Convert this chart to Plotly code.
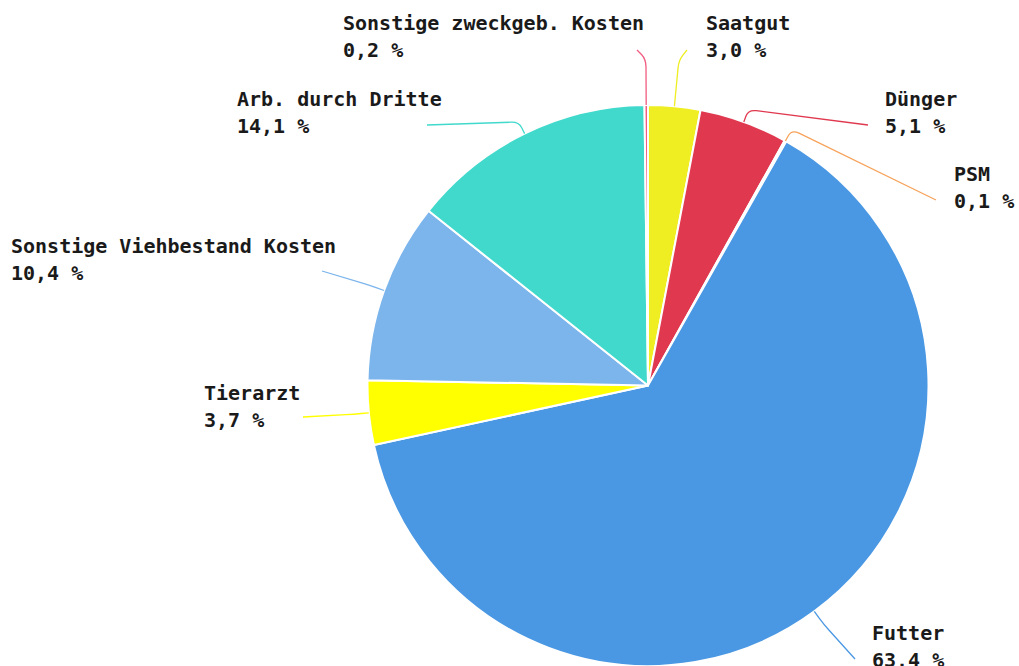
import math
import plotly.graph_objects as go

# Cost shares (percent), listed clockwise from 12 o'clock
names = ["Saatgut", "Dünger", "PSM", "Futter", "Tierarzt",
         "Sonstige Viehbestand Kosten", "Arb. durch Dritte",
         "Sonstige zweckgeb. Kosten"]
values = [3.0, 5.1, 0.1, 63.4, 3.7, 10.4, 14.1, 0.2]
colors = ["#eeee22", "#e0394f", "#f7a35c", "#4a98e3", "#ffff00",
          "#7cb5ec", "#40d9cc", "#f15c80"]

W, H = 1019, 666
CX, CY, R = 648.0, 385.5, 280.5

# label layout: text left x, first-line y, connector end point, elbow distance
label_layout = {
    "Saatgut": dict(tx=704, ty=23, end=(687, 50), d=46),
    "Dünger": dict(tx=883, ty=99, end=(868, 125), d=13),
    "PSM": dict(tx=952, ty=174, end=(936, 200), d=13),
    "Futter": dict(tx=870, ty=633, end=(855, 659), d=16),
    "Tierarzt": dict(tx=202, ty=393, end=(303, 417), d=15),
    "Sonstige Viehbestand Kosten": dict(tx=9, ty=246, end=(322, 271), d=14),
    "Arb. durch Dritte": dict(tx=235, ty=99, end=(427, 125), d=13),
    "Sonstige zweckgeb. Kosten": dict(tx=341, ty=23, end=(637, 50), d=46),
}

FONT = dict(family="DejaVu Sans Mono", size=20, color="#1a1a1a", weight="bold")

fig = go.Figure()
fig.add_trace(go.Pie(
    labels=names, values=values, sort=False, direction="clockwise",
    rotation=0, textinfo="none", hoverinfo="label+percent",
    marker=dict(colors=colors, line=dict(color="#ffffff", width=2)),
    domain=dict(x=[(CX - R) / W, (CX + R) / W], y=[0, 2 * R / H]),
    showlegend=False,
))

def pt_toward(a, b, dist):
    dx, dy = b[0] - a[0], b[1] - a[1]
    n = math.hypot(dx, dy) or 1.0
    k = min(dist, n / 2) / n
    return (a[0] + dx * k, a[1] + dy * k)

shapes, annotations = [], []
total = sum(values)
cum = 0.0
for name, val, col in zip(names, values, colors):
    mid = (cum + val / 2) / total * 2 * math.pi
    cum += val
    lay = label_layout[name]
    ux, uy = math.sin(mid), -math.cos(mid)
    p0 = (CX + R * ux, CY + R * uy)
    p1 = (CX + (R + lay["d"]) * ux, CY + (R + lay["d"]) * uy)
    p2 = lay["end"]
    a = pt_toward(p1, p0, 8)
    b = pt_toward(p1, p2, 8)
    path = (f"M {p0[0]:.1f},{p0[1]:.1f} L {a[0]:.1f},{a[1]:.1f} "
            f"Q {p1[0]:.1f},{p1[1]:.1f} {b[0]:.1f},{b[1]:.1f} "
            f"L {p2[0]:.1f},{p2[1]:.1f}")
    shapes.append(dict(type="path", path=path, xref="x", yref="y",
                       line=dict(color=col, width=1.3)))
    pct = f"{val:.1f}".replace(".", ",") + " %"
    for txt, yy in ((name, lay["ty"]), (pct, lay["ty"] + 26.5)):
        annotations.append(dict(text=txt, x=lay["tx"], y=yy, xref="x", yref="y",
                                xanchor="left", yanchor="middle", showarrow=False,
                                font=FONT))

fig.update_layout(
    width=W, height=H, margin=dict(l=0, r=0, t=0, b=0),
    paper_bgcolor="#ffffff", plot_bgcolor="rgba(0,0,0,0)",
    xaxis=dict(range=[0, W], visible=False, fixedrange=True),
    yaxis=dict(range=[H, 0], visible=False, fixedrange=True),
    shapes=shapes, annotations=annotations,
)

fig.write_html("out.html")
